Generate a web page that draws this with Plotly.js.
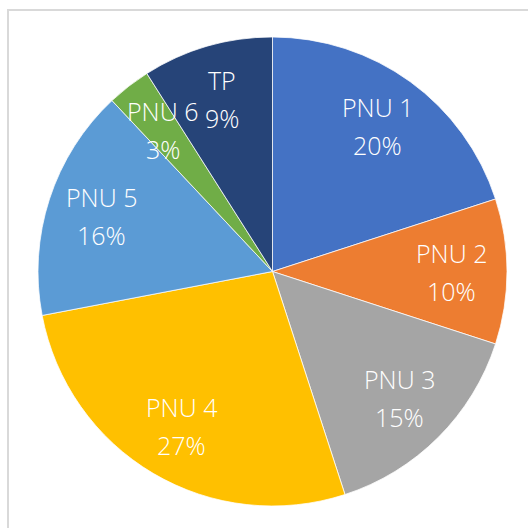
<!DOCTYPE html>
<html>
<head>
<meta charset="utf-8">
<script src="https://cdn.plot.ly/plotly-3.0.1.min.js"></script>
<style>html,body{margin:0;padding:0;background:#fff;}#chart{width:528px;height:528px;}</style>
</head>
<body>
<div id="chart"></div>
<script>
const labels = ["PNU 1", "PNU 2", "PNU 3", "PNU 4", "PNU 5", "PNU 6", "TP"];
const values = [20, 10, 15, 27, 16, 3, 9];
const colors = ["#4472C4", "#ED7D31", "#A5A5A5", "#FFC000", "#5B9BD5", "#70AD47", "#264478"];

const W = 528, H = 528;
const cx = 272.5, cy = 271.5, R = 234.5;
const labelRadius = 0.765 * R;
const lineGap = 19;

const total = values.reduce((a, b) => a + b, 0);
const annotations = [];
let cum = 0;
values.forEach((v, i) => {
  const mid = (cum + v / 2) / total * 2 * Math.PI;
  cum += v;
  const px = cx + labelRadius * Math.sin(mid);
  const py = cy - labelRadius * Math.cos(mid);
  const pct = Math.round(v / total * 100) + "%";
  const font = {family: "Open Sans, Noto Sans, sans-serif", size: 25, color: "#ffffff", weight: 300};
  annotations.push({x: px / W, y: 1 - (py - lineGap) / H, xref: "paper", yref: "paper",
    text: labels[i], showarrow: false, font: font, xanchor: "center", yanchor: "middle"});
  annotations.push({x: px / W, y: 1 - (py + lineGap) / H, xref: "paper", yref: "paper",
    text: pct, showarrow: false, font: font, xanchor: "center", yanchor: "middle"});
});

const trace = {
  type: "pie",
  labels: labels,
  values: values,
  sort: false,
  direction: "clockwise",
  rotation: 0,
  textinfo: "none",
  hoverinfo: "label+percent",
  marker: {colors: colors, line: {color: "#ffffff", width: 0.75}},
  domain: {x: [(cx - R) / W, (cx + R) / W], y: [1 - (cy + R) / H, 1 - (cy - R) / H]}
};

const layout = {
  width: W, height: H,
  margin: {l: 0, r: 0, t: 0, b: 0},
  paper_bgcolor: "#ffffff",
  showlegend: false,
  annotations: annotations,
  shapes: [{type: "rect", xref: "paper", yref: "paper",
    x0: 8 / W, x1: 1.05, y0: -0.05, y1: 1 - 10 / H,
    line: {color: "#d9d9d9", width: 2}, fillcolor: "rgba(0,0,0,0)", layer: "below"}]
};

Plotly.newPlot("chart", [trace], layout, {staticPlot: true});
</script>
</body>
</html>
